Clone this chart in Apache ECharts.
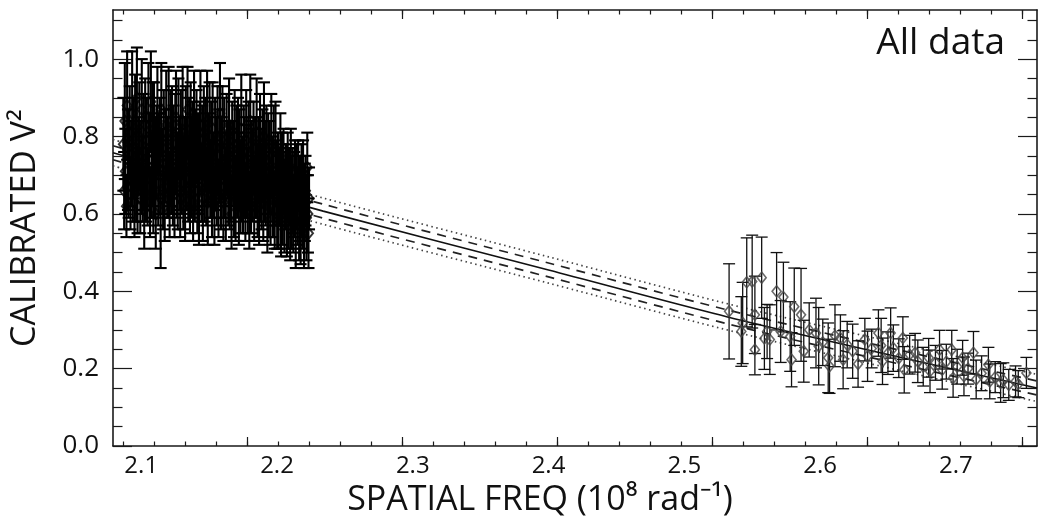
<!DOCTYPE html>
<html><head><meta charset="utf-8">
<script src="https://cdn.jsdelivr.net/npm/echarts@6/dist/echarts.min.js"></script>
<style>html,body{margin:0;padding:0;background:#fff}#c{width:1042px;height:523px}</style>
</head><body><div id="c"></div>
<script>
// ---------- data ----------
const xLabels = [2.1, 2.2, 2.3, 2.4, 2.5, 2.6, 2.7];
const yLabels = [0.0, 0.2, 0.4, 0.6, 0.8, 1.0];
const xMajorTicks = [2.1778, 2.2920, 2.4061, 2.5203, 2.6345, 2.7486];
const xMinorTicks = [2.0865, 2.1093, 2.1322, 2.1550, 2.1778, 2.2007, 2.2235, 2.2463, 2.2692, 2.2920,
  2.3148, 2.3377, 2.3605, 2.3833, 2.4061, 2.4290, 2.4518, 2.4746, 2.4975, 2.5203,
  2.5431, 2.5660, 2.5888, 2.6116, 2.6345, 2.6573, 2.6801, 2.7030, 2.7258, 2.7486];
const yMajorTicks = [0.0, 0.2, 0.4, 0.6, 0.8, 1.0];
const yMinorTicks = [0.05, 0.1, 0.15, 0.25, 0.3, 0.35, 0.45, 0.5, 0.55, 0.65, 0.7, 0.75, 0.85, 0.9, 0.95, 1.05, 1.1];

// short-baseline group (left cluster)
const leftX = [
2.0868,2.0874,2.0879,2.0883,2.0891,2.0896,2.0902,2.0907,2.0915,2.0921,
2.0926,2.0933,2.0938,2.0944,2.0950,2.0955,2.0962,2.0968,2.0973,2.0981,
2.0986,2.0993,2.0999,2.1004,2.1011,2.1017,2.1022,2.1029,2.1035,2.1040,
2.1047,2.1053,2.1058,2.1065,2.1071,2.1076,2.1083,2.1089,2.1094,2.1101,
2.1107,2.1112,2.1119,2.1125,2.1130,2.1137,2.1143,2.1148,2.1155,2.1161,
2.1166,2.1173,2.1179,2.1184,2.1191,2.1197,2.1202,2.1209,2.1215,2.1220,
2.1227,2.1233,2.1238,2.1245,2.1251,2.1256,2.1263,2.1269,2.1274,2.1281,
2.1287,2.1292,2.1299,2.1305,2.1310,2.1317,2.1323,2.1328,2.1335,2.1341,
2.1346,2.1353,2.1359,2.1364,2.1371,2.1377,2.1382,2.1389,2.1395,2.1400,
2.1407,2.1413,2.1418,2.1425,2.1431,2.1436,2.1443,2.1449,2.1454,2.1461,
2.1467,2.1472,2.1479,2.1485,2.1490,2.1497,2.1503,2.1508,2.1515,2.1521,
2.1526,2.1533,2.1539,2.1544,2.1551,2.1557,2.1562,2.1569,2.1575,2.1580,
2.1587,2.1593,2.1598,2.1605,2.1611,2.1616,2.1623,2.1629,2.1634,2.1641,
2.1647,2.1652,2.1659,2.1665,2.1670,2.1677,2.1683,2.1688,2.1695,2.1701,
2.1706,2.1713,2.1719,2.1724,2.1731,2.1737,2.1742,2.1749,2.1755,2.1760,
2.1767,2.1773,2.1778,2.1785,2.1791,2.1796,2.1803,2.1809,2.1814,2.1821,
2.1827,2.1832,2.1839,2.1845,2.1850,2.1857,2.1863,2.1868,2.1875,2.1881,
2.1886,2.1893,2.1899,2.1904,2.1911,2.1917,2.1922,2.1929,2.1935,2.1940,
2.1947,2.1953,2.1958,2.1965,2.1971,2.1976,2.1983,2.1989,2.1994,2.2001,
2.2007,2.2012,2.2019,2.2025,2.2030,2.2037,2.2043,2.2048,2.2055,2.2061,
2.2066,2.2073,2.2079,2.2084,2.2091,2.2097,2.2102,2.2109,2.2115,2.2120,
2.2127,2.2133,2.2138,2.2145,2.2151,2.2156,2.2163,2.2169,2.2174,2.2181,
2.2187,2.2192,2.2199,2.2205,2.2210,2.2217,2.2223,2.2228,2.2232,2.2236];
const leftV2 = [
0.78,0.66,0.84,0.71,0.62,0.88,0.74,0.69,0.81,0.65,
0.73,0.86,0.68,0.77,0.63,0.82,0.70,0.90,0.66,0.75,
0.80,0.64,0.72,0.87,0.69,0.76,0.61,0.83,0.71,0.79,
0.67,0.85,0.74,0.63,0.89,0.70,0.78,0.65,0.82,0.72,
0.60,0.76,0.84,0.68,0.73,0.80,0.64,0.87,0.71,0.66,
0.79,0.62,0.75,0.83,0.69,0.72,0.86,0.65,0.77,0.70,
0.81,0.67,0.74,0.63,0.78,0.85,0.70,0.66,0.82,0.73,
0.64,0.79,0.71,0.84,0.68,0.75,0.62,0.80,0.73,0.87,
0.69,0.76,0.65,0.82,0.72,0.78,0.63,0.85,0.70,0.74,
0.80,0.66,0.73,0.61,0.77,0.83,0.68,0.75,0.64,0.81,
0.71,0.78,0.67,0.84,0.63,0.74,0.80,0.69,0.76,0.65,
0.82,0.70,0.62,0.77,0.73,0.68,0.79,0.64,0.75,0.86,
0.67,0.72,0.81,0.63,0.76,0.70,0.65,0.78,0.74,0.69,
0.83,0.66,0.71,0.60,0.77,0.73,0.68,0.80,0.64,0.75,
0.70,0.78,0.62,0.74,0.67,0.82,0.69,0.65,0.76,0.72,
0.63,0.79,0.71,0.66,0.75,0.61,0.84,0.68,0.73,0.70,
0.77,0.64,0.72,0.69,0.81,0.66,0.74,0.62,0.78,0.70,
0.67,0.75,0.63,0.80,0.71,0.68,0.76,0.60,0.73,0.65,
0.72,0.62,0.78,0.69,0.66,0.74,0.61,0.77,0.68,0.64,
0.70,0.63,0.67,0.73,0.60,0.69,0.65,0.71,0.62,0.66,
0.68,0.61,0.70,0.64,0.67,0.59,0.72,0.63,0.66,0.60,
0.65,0.69,0.58,0.67,0.62,0.70,0.60,0.64,0.57,0.66,
0.61,0.68,0.58,0.63,0.66,0.59,0.72,0.60,0.55,0.64];
const leftErr = [
0.12,0.10,0.15,0.11,0.08,0.14,0.13,0.10,0.12,0.09,
0.11,0.16,0.10,0.13,0.09,0.14,0.12,0.13,0.11,0.10,
0.14,0.09,0.12,0.13,0.11,0.15,0.10,0.12,0.13,0.11,
0.10,0.14,0.12,0.09,0.13,0.11,0.16,0.10,0.12,0.13,
0.09,0.12,0.14,0.11,0.13,0.10,0.18,0.12,0.11,0.10,
0.13,0.09,0.12,0.14,0.10,0.13,0.12,0.11,0.15,0.10,
0.12,0.10,0.14,0.09,0.13,0.12,0.11,0.10,0.13,0.12,
0.10,0.13,0.11,0.14,0.12,0.10,0.09,0.13,0.12,0.11,
0.11,0.14,0.10,0.12,0.13,0.11,0.10,0.12,0.12,0.13,
0.12,0.11,0.13,0.09,0.12,0.14,0.10,0.13,0.11,0.12,
0.13,0.12,0.10,0.13,0.11,0.12,0.14,0.10,0.13,0.11,
0.12,0.11,0.10,0.13,0.12,0.11,0.14,0.10,0.12,0.13,
0.11,0.13,0.12,0.10,0.14,0.11,0.12,0.13,0.10,0.12,
0.12,0.10,0.13,0.09,0.12,0.11,0.14,0.12,0.11,0.13,
0.11,0.12,0.10,0.13,0.12,0.14,0.11,0.10,0.12,0.13,
0.10,0.13,0.12,0.11,0.14,0.10,0.12,0.13,0.11,0.12,
0.12,0.11,0.13,0.10,0.14,0.12,0.11,0.10,0.13,0.12,
0.11,0.12,0.10,0.14,0.13,0.11,0.12,0.10,0.13,0.11,
0.12,0.10,0.13,0.11,0.12,0.14,0.10,0.12,0.11,0.13,
0.11,0.12,0.10,0.13,0.11,0.12,0.13,0.11,0.12,0.10,
0.10,0.12,0.11,0.13,0.10,0.11,0.10,0.12,0.11,0.10,
0.11,0.10,0.12,0.11,0.10,0.09,0.12,0.11,0.10,0.12,
0.10,0.11,0.12,0.10,0.09,0.11,0.09,0.10,0.09,0.08];

// long-baseline group (right cluster)
const rightX = [2.533,2.542,2.543,2.546,2.550,2.552,2.552,2.557,2.559,2.561,
  2.563,2.568,2.571,2.573,2.578,2.579,2.581,2.586,2.588,2.592,
  2.597,2.599,2.602,2.606,2.607,2.611,2.615,2.617,2.620,2.624,
  2.628,2.633,2.635,2.638,2.643,2.645,2.646,2.650,2.652,2.654,
  2.658,2.661,2.662,2.666,2.670,2.672,2.676,2.680,2.681,2.685,
  2.688,2.690,2.693,2.697,2.698,2.701,2.705,2.706,2.709,2.713,
  2.715,2.719,2.724,2.725,2.729,2.733,2.735,2.739,2.744,2.746,2.752];
const rightV2 = [0.348,0.296,0.318,0.423,0.425,0.339,0.249,0.435,0.278,0.296,
  0.275,0.400,0.296,0.385,0.283,0.223,0.360,0.339,0.245,0.300,
  0.292,0.258,0.268,0.228,0.206,0.285,0.279,0.223,0.262,0.245,
  0.212,0.275,0.232,0.252,0.292,0.260,0.219,0.240,0.292,0.253,
  0.227,0.279,0.197,0.236,0.241,0.219,0.205,0.228,0.193,0.215,
  0.249,0.197,0.218,0.249,0.176,0.205,0.228,0.180,0.200,0.241,
  0.172,0.188,0.210,0.167,0.178,0.163,0.170,0.158,0.167,0.160,0.189];
const rightErr = [0.123,0.090,0.105,0.115,0.120,0.100,0.065,0.105,0.080,0.070,
  0.090,0.100,0.080,0.090,0.090,0.070,0.100,0.120,0.080,0.070,
  0.090,0.100,0.060,0.090,0.070,0.080,0.060,0.075,0.060,0.070,
  0.060,0.055,0.065,0.050,0.060,0.070,0.060,0.055,0.065,0.060,
  0.050,0.055,0.060,0.050,0.050,0.055,0.050,0.050,0.055,0.045,
  0.050,0.050,0.045,0.050,0.050,0.045,0.045,0.050,0.040,0.055,
  0.050,0.045,0.045,0.045,0.040,0.050,0.045,0.040,0.040,0.035,0.040];

// uniform-disk fit and its uncertainty envelopes
const fitX       = [2.0792, 2.234, 2.400, 2.550, 2.7598];
const fitV2      = [0.758, 0.607, 0.455, 0.318, 0.150];
const fitDashHi  = [0.776, 0.625, 0.473, 0.336, 0.168];
const fitDashLo  = [0.740, 0.589, 0.437, 0.300, 0.132];
const fitDotHi   = [0.792, 0.641, 0.489, 0.352, 0.185];
const fitDotLo   = [0.724, 0.573, 0.421, 0.284, 0.115];

const X_MIN = 2.0792, X_MAX = 2.7598, Y_MIN = 0, Y_MAX = 1.127;

// ---------- chart ----------
const FONT = 'Open Sans';
const pts = (xs, ys, es) => xs.map((x, i) => [x, ys[i], es[i]]);
const line = (ys) => fitX.map((x, i) => [x, ys[i]]);

function makeErrBar(width, color) {
  return function (params, api) {
    const x = api.value(0), y = api.value(1), e = api.value(2);
    const hi = api.coord([x, y + e]), lo = api.coord([x, y - e]);
    const hw = 6;
    const st = { stroke: color, lineWidth: width };
    return { type: 'group', children: [
      { type: 'line', shape: { x1: hi[0], y1: hi[1], x2: lo[0], y2: lo[1] }, style: st },
      { type: 'line', shape: { x1: hi[0] - hw, y1: hi[1], x2: hi[0] + hw, y2: hi[1] }, style: st },
      { type: 'line', shape: { x1: lo[0] - hw, y1: lo[1], x2: lo[0] + hw, y2: lo[1] }, style: st }
    ]};
  };
}

const baseX = { type: 'value', min: X_MIN, max: X_MAX, splitLine: { show: false } };
const baseY = { type: 'value', min: Y_MIN, max: Y_MAX, splitLine: { show: false } };
const axLine = { show: true, onZero: false, lineStyle: { color: '#1a1a1a', width: 1.6 } };
const noLine = { show: false, onZero: false };
const tick = (vals, len) => ({ show: true, inside: true, length: len, customValues: vals, lineStyle: { color: '#1a1a1a', width: 1.2 } });

const chart = echarts.init(document.getElementById('c'), null, { renderer: 'canvas' });
chart.setOption({
  animation: false,
  backgroundColor: '#fff',
  title: { text: 'All data', right: 32, top: 20,
    textStyle: { fontFamily: FONT, fontSize: 37, fontWeight: 'normal', color: '#111' } },
  grid: { left: 113, right: 5, top: 10, bottom: 77 },
  xAxis: [
    Object.assign({}, baseX, { position: 'bottom', axisLine: axLine, axisTick: tick(xMajorTicks, 9),
      axisLabel: { customValues: xLabels, formatter: v => v.toFixed(1), fontFamily: FONT, fontSize: 24, color: '#111', margin: 8 },
      name: 'SPATIAL FREQ (10⁸ rad⁻¹)', nameLocation: 'middle', nameGap: 34,
      nameTextStyle: { fontFamily: FONT, fontSize: 34, color: '#111', verticalAlign: 'top', padding: [0, 70, 0, 0] } }),
    Object.assign({}, baseX, { position: 'bottom', axisLine: noLine, axisTick: tick(xMinorTicks, 4.5), axisLabel: { show: false } }),
    Object.assign({}, baseX, { position: 'top', axisLine: axLine, axisTick: tick(xMajorTicks, 9), axisLabel: { show: false } }),
    Object.assign({}, baseX, { position: 'top', axisLine: noLine, axisTick: tick(xMinorTicks, 4.5), axisLabel: { show: false } })
  ],
  yAxis: [
    Object.assign({}, baseY, { position: 'left', axisLine: axLine, axisTick: tick(yMajorTicks, 19),
      axisLabel: { customValues: yLabels, formatter: v => v.toFixed(1), fontFamily: FONT, fontSize: 26, color: '#111', margin: 14 },
      name: 'CALIBRATED V²', nameLocation: 'middle', nameGap: 71,
      nameTextStyle: { fontFamily: FONT, fontSize: 34, color: '#111' } }),
    Object.assign({}, baseY, { position: 'left', axisLine: noLine, axisTick: tick(yMinorTicks, 9.5), axisLabel: { show: false } }),
    Object.assign({}, baseY, { position: 'right', axisLine: axLine, axisTick: tick(yMajorTicks, 19), axisLabel: { show: false } }),
    Object.assign({}, baseY, { position: 'right', axisLine: noLine, axisTick: tick(yMinorTicks, 9.5), axisLabel: { show: false } })
  ],
  series: [
    { type: 'line', data: line(fitDotHi), showSymbol: false, smooth: 0.3, z: 1,
      lineStyle: { color: '#444', width: 1.7, type: [1.5, 3.5] } },
    { type: 'line', data: line(fitDotLo), showSymbol: false, smooth: 0.3, z: 1,
      lineStyle: { color: '#444', width: 1.7, type: [1.5, 3.5] } },
    { type: 'line', data: line(fitDashHi), showSymbol: false, smooth: 0.3, z: 1,
      lineStyle: { color: '#222', width: 1.7, type: [9, 7] } },
    { type: 'line', data: line(fitDashLo), showSymbol: false, smooth: 0.3, z: 1,
      lineStyle: { color: '#222', width: 1.7, type: [9, 7] } },
    { type: 'line', data: line(fitV2), showSymbol: false, smooth: 0.3, z: 1,
      lineStyle: { color: '#111', width: 1.7 } },
    { type: 'custom', renderItem: makeErrBar(2.1, '#000'), data: pts(leftX, leftV2, leftErr), encode: { x: 0, y: 1 }, z: 2, clip: true },
    { type: 'custom', renderItem: makeErrBar(1.3, '#111'), data: pts(rightX, rightV2, rightErr), encode: { x: 0, y: 1 }, z: 2, clip: true },
    { type: 'scatter', data: pts(leftX, leftV2, leftErr), symbol: 'diamond', symbolSize: [9, 11], z: 3,
      itemStyle: { color: 'none', borderColor: '#000', borderWidth: 2 } },
    { type: 'scatter', data: pts(rightX, rightV2, rightErr), symbol: 'diamond', symbolSize: [9, 11], z: 3,
      itemStyle: { color: 'none', borderColor: '#444', borderWidth: 1.6 } }
  ]
});
</script></body></html>
